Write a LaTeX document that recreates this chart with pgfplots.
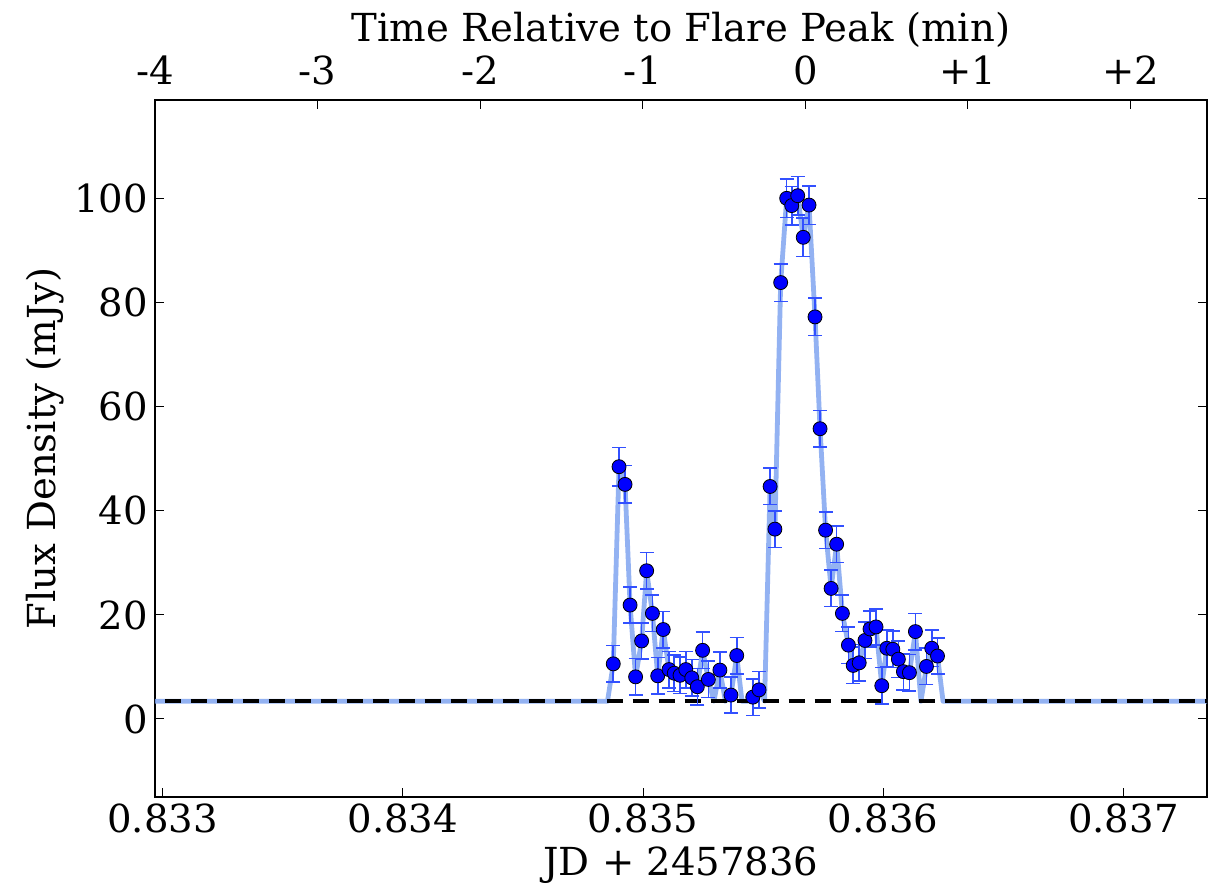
\documentclass[border=0pt]{standalone}
\usepackage{fontspec}
\setmainfont{DejaVu Serif}
\usepackage{pgfplots}
\usepackage{pgfplotstable}
\pgfplotsset{compat=1.18}
\definecolor{linecol}{RGB}{128,164,240}
\definecolor{errcol}{RGB}{50,80,255}
\definecolor{markcol}{RGB}{0,0,255}

\pgfplotstableread{
x y e
0.834876 10.6 3.5
0.834900 48.5 3.7
0.834925 45.1 3.6
0.834946 21.9 3.5
0.834969 8.1 3.5
0.834994 15.0 3.5
0.835015 28.5 3.5
0.835039 20.3 3.5
0.835061 8.3 3.5
0.835084 17.2 3.5
0.835108 9.5 3.5
0.835130 8.8 3.5
0.835154 8.4 3.5
0.835178 9.5 3.5
0.835203 7.9 3.5
0.835226 6.2 3.5
0.835248 13.2 3.5
0.835272 7.6 3.5
0.835320 9.4 3.5
0.835366 4.6 3.5
0.835390 12.2 3.5
0.835457 4.2 3.5
0.835483 5.6 3.5
0.835529 44.7 3.5
0.835549 36.5 3.5
0.835573 83.9 3.6
0.835598 100.1 3.7
0.835619 98.7 3.7
0.835644 100.6 3.7
0.835667 92.6 3.7
0.835691 98.8 3.7
0.835716 77.3 3.6
0.835737 55.8 3.5
0.835760 36.3 3.5
0.835783 25.1 3.5
0.835806 33.6 3.5
0.835830 20.3 3.5
0.835855 14.2 3.5
0.835875 10.3 3.5
0.835900 10.8 3.5
0.835924 15.1 3.5
0.835945 17.3 3.5
0.835970 17.7 3.5
0.835994 6.4 3.5
0.836015 13.6 3.5
0.836040 13.4 3.5
0.836063 11.5 3.5
0.836084 9.1 3.5
0.836109 8.9 3.5
0.836134 16.8 3.5
0.836180 10.1 3.5
0.836202 13.6 3.5
0.836226 12.1 3.5
}\fluxdata

\pgfplotstableread{
x y
0.832900 3.4
0.834852 3.4
0.834876 10.6
0.834900 48.5
0.834925 45.1
0.834946 21.9
0.834969 8.1
0.834994 15.0
0.835015 28.5
0.835039 20.3
0.835061 8.3
0.835084 17.2
0.835108 9.5
0.835130 8.8
0.835154 8.4
0.835178 9.5
0.835203 7.9
0.835226 6.2
0.835248 13.2
0.835272 7.6
0.835295 3.4
0.835320 9.4
0.835343 3.4
0.835366 4.6
0.835390 12.2
0.835412 3.4
0.835435 3.4
0.835457 4.2
0.835483 5.6
0.835506 3.4
0.835529 44.7
0.835549 36.5
0.835573 83.9
0.835598 100.1
0.835619 98.7
0.835644 100.6
0.835667 92.6
0.835691 98.8
0.835716 77.3
0.835737 55.8
0.835760 36.3
0.835783 25.1
0.835806 33.6
0.835830 20.3
0.835855 14.2
0.835875 10.3
0.835900 10.8
0.835924 15.1
0.835945 17.3
0.835970 17.7
0.835994 6.4
0.836015 13.6
0.836040 13.4
0.836063 11.5
0.836084 9.1
0.836109 8.9
0.836134 16.8
0.836157 3.4
0.836180 10.1
0.836202 13.6
0.836226 12.1
0.836249 3.4
0.837400 3.4
}\linedata

\begin{document}
\begin{tikzpicture}
\begin{axis}[
  at={(0,0)}, anchor=south west,
  scale only axis, width=526pt, height=348.5pt,
  xmin=0.832968, xmax=0.837348, ymin=-15, ymax=119,
  xtick={0.833,0.834,0.835,0.836,0.837},
  xticklabels={0.833,0.834,0.835,0.836,0.837},
  ytick={0,20,40,60,80,100},
  xtick pos=lower, ytick pos=both, tick align=inside,
  major tick length=4.5pt,
  tick style={black, line width=0.5pt},
  axis line style={black, line width=1pt},
  font=\fontsize{19.3}{22}\selectfont,
  /pgf/number format/assume math mode=true,
  xlabel={JD + 2457836},
  ylabel={Flux Density (mJy)},
  xlabel style={at={(axis description cs:0.5,-0.0976)}, anchor=center},
  ylabel style={at={(axis description cs:-0.1046,0.5)}, anchor=center},
  clip=true,
]
\addplot[linecol, line width=2.4pt, opacity=0.85, line join=round, mark=none] table[x=x, y=y] {\linedata};
\addplot[black, line width=2pt, dash pattern=on 8pt off 5pt, mark=none] coordinates {(0.8329,3.4) (0.8374,3.4)};
\addplot[only marks, mark=*, mark size=3.5pt,
  mark options={fill=markcol, draw=black, line width=0.4pt},
  error bars/.cd, y dir=both, y explicit,
  error bar style={draw=errcol, solid, line width=0.8pt},
  error mark=|,
  error mark options={draw=errcol, solid, mark size=3.5pt, line width=0.8pt}]
  table[x=x, y=y, y error=e] {\fluxdata};
\end{axis}
\begin{axis}[
  at={(0,0)}, anchor=south west,
  scale only axis, width=526pt, height=348.5pt,
  xmin=-4, xmax=2.47, ymin=-15, ymax=119,
  axis x line*=top, axis y line=none,
  xtick={-4,-3,-2,-1,0,1,2},
  xticklabels={-4,-3,-2,-1,0,+1,+2},
  xticklabel style={yshift=4pt},
  tick align=inside, major tick length=4.5pt,
  tick style={black, line width=0.5pt},
  axis line style={black, line width=1pt},
  font=\fontsize{19.3}{22}\selectfont,
  xlabel={Time Relative to Flare Peak (min)},
  xlabel style={at={(axis description cs:0.5,1.1004)}, anchor=center},
]
\end{axis}
\pgfresetboundingbox
\path[use as bounding box] (-77.5pt,-47pt) rectangle (531pt,398.5pt);
\end{tikzpicture}
\end{document}
